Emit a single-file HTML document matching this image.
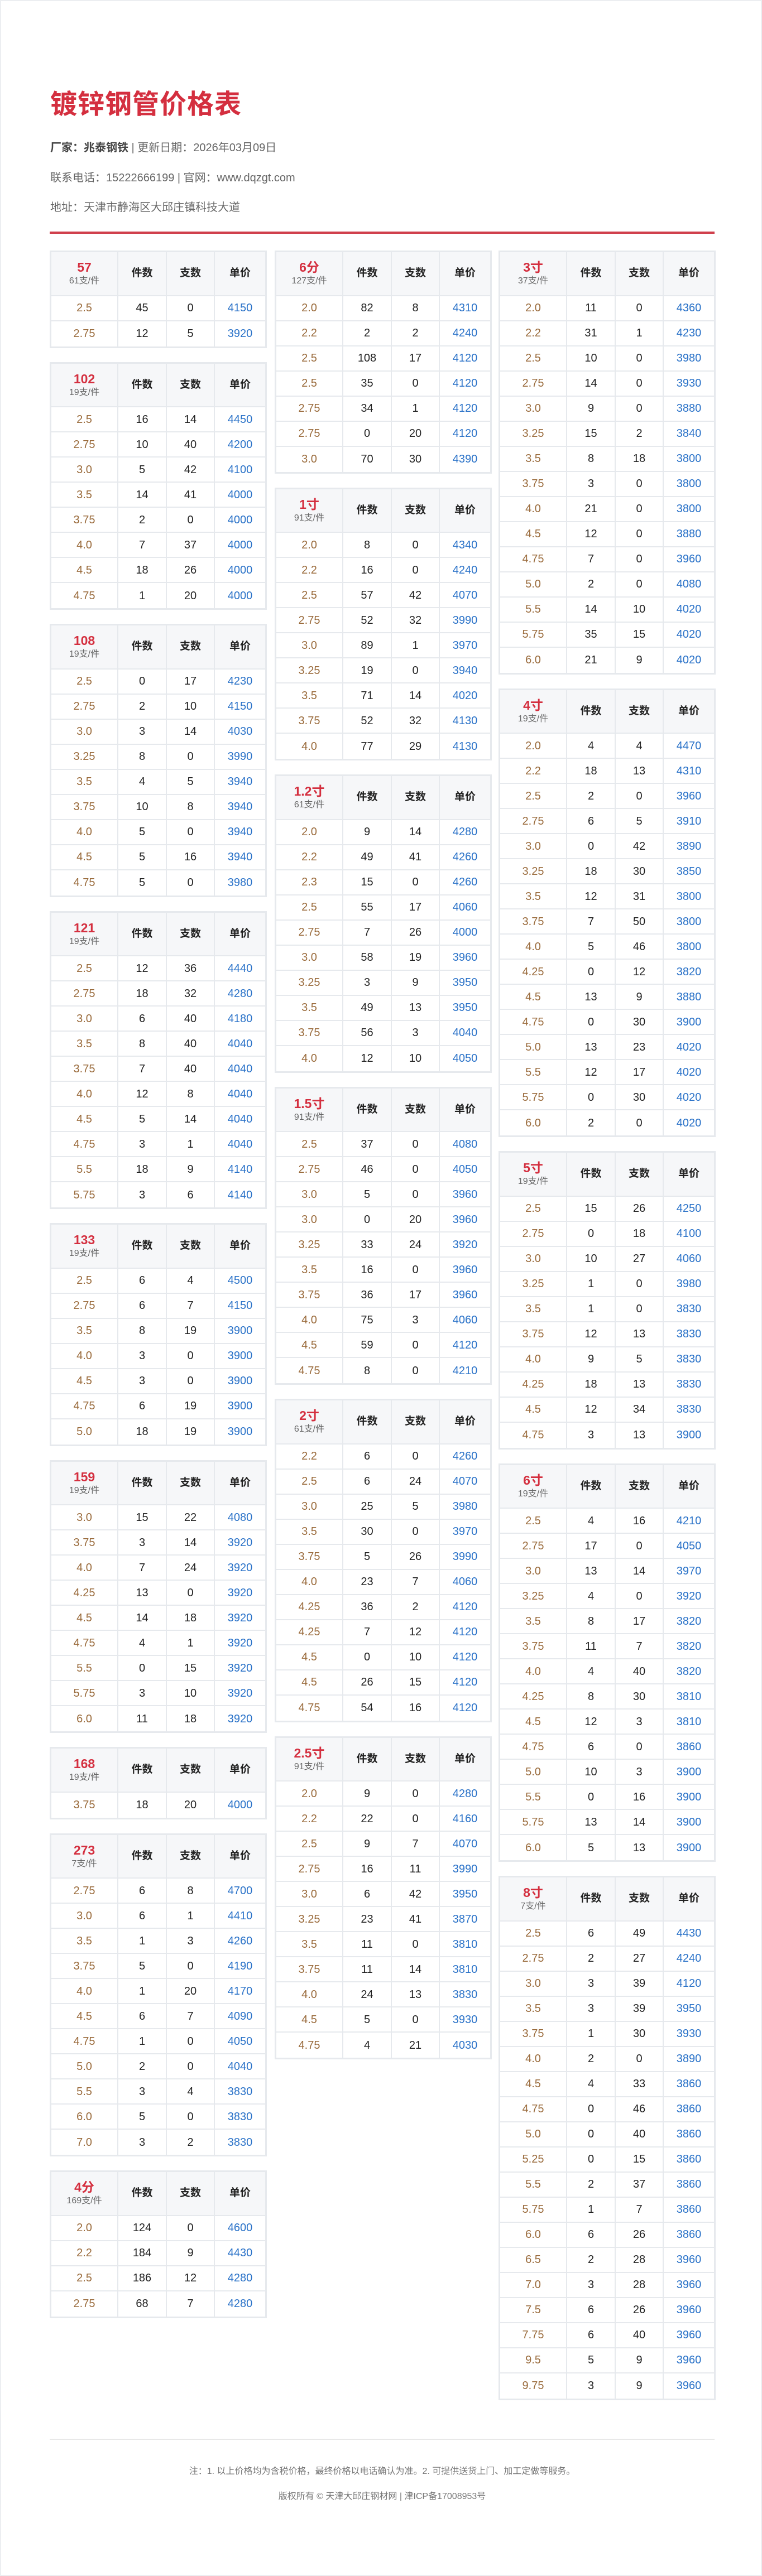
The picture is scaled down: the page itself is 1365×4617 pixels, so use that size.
<!DOCTYPE html>
<html lang="zh">
<head>
<meta charset="utf-8">
<style>
*{box-sizing:border-box;margin:0;padding:0}
html,body{width:1365px;height:4617px;background:#fff}
body{position:relative;font-family:"Liberation Sans","Noto Sans CJK SC",sans-serif;border:2px solid #eceef1;overflow:hidden}
h1{position:absolute;left:88px;top:156px;font-size:48px;font-weight:bold;color:#d42f3f;line-height:60px;letter-spacing:1px}
.info{position:absolute;left:88px;font-size:20px;color:#666;line-height:28px;white-space:nowrap}
.info b{color:#444}
.redline{position:absolute;left:87px;top:413px;width:1191px;height:4px;background:#d0404c}
.col{position:absolute;top:447px;width:389px}
.c1{left:87px}.c2{left:490px}.c3{left:891px}
table{width:389px;border:3px solid #e6e9ed;border-spacing:0;table-layout:fixed;margin-bottom:25px;background:#fff}
td,th{text-align:center;border-right:2px solid #e6e9ed;border-bottom:2px solid #e6e9ed;font-size:20px;line-height:24px;padding:0}
td:last-child,th:last-child{border-right:none}
tr:last-child td{border-bottom:none}
tr{height:45px}
tr.h{height:78.5px}
th{background:#f6f7f9;color:#222;font-weight:bold;font-size:19px}
th .n{display:block;color:#d42f3f;font-size:23px;line-height:28px}
th .s{display:block;color:#666;font-weight:normal;font-size:16px;line-height:22px}
td:nth-child(1){color:#9a6b3c}
td:nth-child(2),td:nth-child(3){color:#222}
td:nth-child(4){color:#2a72c8}
col.a{width:120px}col.b{width:87px}col.c{width:86px}
.fline{position:absolute;left:87px;top:4369px;width:1191px;height:2px;background:#e8e8e8}
.note{position:absolute;left:0;width:1365px;text-align:center;font-size:16px;color:#777;line-height:22px}
</style>
</head>
<body>
<h1>镀锌钢管价格表</h1>
<div class="info" style="top:249px"><b>厂家：兆泰钢铁</b> | 更新日期：2026年03月09日</div>
<div class="info" style="top:303px">联系电话：15222666199 | 官网：www.dqzgt.com</div>
<div class="info" style="top:356px">地址：天津市静海区大邱庄镇科技大道</div>
<div class="redline"></div>

<div class="col c1">
<table><colgroup><col class="a"><col class="b"><col class="c"><col></colgroup>
<tr class="h"><th><span class="n">57</span><span class="s">61支/件</span></th><th>件数</th><th>支数</th><th>单价</th></tr>
<tr><td>2.5</td><td>45</td><td>0</td><td>4150</td></tr>
<tr><td>2.75</td><td>12</td><td>5</td><td>3920</td></tr>
</table>
<table><colgroup><col class="a"><col class="b"><col class="c"><col></colgroup>
<tr class="h"><th><span class="n">102</span><span class="s">19支/件</span></th><th>件数</th><th>支数</th><th>单价</th></tr>
<tr><td>2.5</td><td>16</td><td>14</td><td>4450</td></tr>
<tr><td>2.75</td><td>10</td><td>40</td><td>4200</td></tr>
<tr><td>3.0</td><td>5</td><td>42</td><td>4100</td></tr>
<tr><td>3.5</td><td>14</td><td>41</td><td>4000</td></tr>
<tr><td>3.75</td><td>2</td><td>0</td><td>4000</td></tr>
<tr><td>4.0</td><td>7</td><td>37</td><td>4000</td></tr>
<tr><td>4.5</td><td>18</td><td>26</td><td>4000</td></tr>
<tr><td>4.75</td><td>1</td><td>20</td><td>4000</td></tr>
</table>
<table><colgroup><col class="a"><col class="b"><col class="c"><col></colgroup>
<tr class="h"><th><span class="n">108</span><span class="s">19支/件</span></th><th>件数</th><th>支数</th><th>单价</th></tr>
<tr><td>2.5</td><td>0</td><td>17</td><td>4230</td></tr>
<tr><td>2.75</td><td>2</td><td>10</td><td>4150</td></tr>
<tr><td>3.0</td><td>3</td><td>14</td><td>4030</td></tr>
<tr><td>3.25</td><td>8</td><td>0</td><td>3990</td></tr>
<tr><td>3.5</td><td>4</td><td>5</td><td>3940</td></tr>
<tr><td>3.75</td><td>10</td><td>8</td><td>3940</td></tr>
<tr><td>4.0</td><td>5</td><td>0</td><td>3940</td></tr>
<tr><td>4.5</td><td>5</td><td>16</td><td>3940</td></tr>
<tr><td>4.75</td><td>5</td><td>0</td><td>3980</td></tr>
</table>
<table><colgroup><col class="a"><col class="b"><col class="c"><col></colgroup>
<tr class="h"><th><span class="n">121</span><span class="s">19支/件</span></th><th>件数</th><th>支数</th><th>单价</th></tr>
<tr><td>2.5</td><td>12</td><td>36</td><td>4440</td></tr>
<tr><td>2.75</td><td>18</td><td>32</td><td>4280</td></tr>
<tr><td>3.0</td><td>6</td><td>40</td><td>4180</td></tr>
<tr><td>3.5</td><td>8</td><td>40</td><td>4040</td></tr>
<tr><td>3.75</td><td>7</td><td>40</td><td>4040</td></tr>
<tr><td>4.0</td><td>12</td><td>8</td><td>4040</td></tr>
<tr><td>4.5</td><td>5</td><td>14</td><td>4040</td></tr>
<tr><td>4.75</td><td>3</td><td>1</td><td>4040</td></tr>
<tr><td>5.5</td><td>18</td><td>9</td><td>4140</td></tr>
<tr><td>5.75</td><td>3</td><td>6</td><td>4140</td></tr>
</table>
<table><colgroup><col class="a"><col class="b"><col class="c"><col></colgroup>
<tr class="h"><th><span class="n">133</span><span class="s">19支/件</span></th><th>件数</th><th>支数</th><th>单价</th></tr>
<tr><td>2.5</td><td>6</td><td>4</td><td>4500</td></tr>
<tr><td>2.75</td><td>6</td><td>7</td><td>4150</td></tr>
<tr><td>3.5</td><td>8</td><td>19</td><td>3900</td></tr>
<tr><td>4.0</td><td>3</td><td>0</td><td>3900</td></tr>
<tr><td>4.5</td><td>3</td><td>0</td><td>3900</td></tr>
<tr><td>4.75</td><td>6</td><td>19</td><td>3900</td></tr>
<tr><td>5.0</td><td>18</td><td>19</td><td>3900</td></tr>
</table>
<table><colgroup><col class="a"><col class="b"><col class="c"><col></colgroup>
<tr class="h"><th><span class="n">159</span><span class="s">19支/件</span></th><th>件数</th><th>支数</th><th>单价</th></tr>
<tr><td>3.0</td><td>15</td><td>22</td><td>4080</td></tr>
<tr><td>3.75</td><td>3</td><td>14</td><td>3920</td></tr>
<tr><td>4.0</td><td>7</td><td>24</td><td>3920</td></tr>
<tr><td>4.25</td><td>13</td><td>0</td><td>3920</td></tr>
<tr><td>4.5</td><td>14</td><td>18</td><td>3920</td></tr>
<tr><td>4.75</td><td>4</td><td>1</td><td>3920</td></tr>
<tr><td>5.5</td><td>0</td><td>15</td><td>3920</td></tr>
<tr><td>5.75</td><td>3</td><td>10</td><td>3920</td></tr>
<tr><td>6.0</td><td>11</td><td>18</td><td>3920</td></tr>
</table>
<table><colgroup><col class="a"><col class="b"><col class="c"><col></colgroup>
<tr class="h"><th><span class="n">168</span><span class="s">19支/件</span></th><th>件数</th><th>支数</th><th>单价</th></tr>
<tr><td>3.75</td><td>18</td><td>20</td><td>4000</td></tr>
</table>
<table><colgroup><col class="a"><col class="b"><col class="c"><col></colgroup>
<tr class="h"><th><span class="n">273</span><span class="s">7支/件</span></th><th>件数</th><th>支数</th><th>单价</th></tr>
<tr><td>2.75</td><td>6</td><td>8</td><td>4700</td></tr>
<tr><td>3.0</td><td>6</td><td>1</td><td>4410</td></tr>
<tr><td>3.5</td><td>1</td><td>3</td><td>4260</td></tr>
<tr><td>3.75</td><td>5</td><td>0</td><td>4190</td></tr>
<tr><td>4.0</td><td>1</td><td>20</td><td>4170</td></tr>
<tr><td>4.5</td><td>6</td><td>7</td><td>4090</td></tr>
<tr><td>4.75</td><td>1</td><td>0</td><td>4050</td></tr>
<tr><td>5.0</td><td>2</td><td>0</td><td>4040</td></tr>
<tr><td>5.5</td><td>3</td><td>4</td><td>3830</td></tr>
<tr><td>6.0</td><td>5</td><td>0</td><td>3830</td></tr>
<tr><td>7.0</td><td>3</td><td>2</td><td>3830</td></tr>
</table>
<table><colgroup><col class="a"><col class="b"><col class="c"><col></colgroup>
<tr class="h"><th><span class="n">4分</span><span class="s">169支/件</span></th><th>件数</th><th>支数</th><th>单价</th></tr>
<tr><td>2.0</td><td>124</td><td>0</td><td>4600</td></tr>
<tr><td>2.2</td><td>184</td><td>9</td><td>4430</td></tr>
<tr><td>2.5</td><td>186</td><td>12</td><td>4280</td></tr>
<tr><td>2.75</td><td>68</td><td>7</td><td>4280</td></tr>
</table>
</div>

<div class="col c2">
<table><colgroup><col class="a"><col class="b"><col class="c"><col></colgroup>
<tr class="h"><th><span class="n">6分</span><span class="s">127支/件</span></th><th>件数</th><th>支数</th><th>单价</th></tr>
<tr><td>2.0</td><td>82</td><td>8</td><td>4310</td></tr>
<tr><td>2.2</td><td>2</td><td>2</td><td>4240</td></tr>
<tr><td>2.5</td><td>108</td><td>17</td><td>4120</td></tr>
<tr><td>2.5</td><td>35</td><td>0</td><td>4120</td></tr>
<tr><td>2.75</td><td>34</td><td>1</td><td>4120</td></tr>
<tr><td>2.75</td><td>0</td><td>20</td><td>4120</td></tr>
<tr><td>3.0</td><td>70</td><td>30</td><td>4390</td></tr>
</table>
<table><colgroup><col class="a"><col class="b"><col class="c"><col></colgroup>
<tr class="h"><th><span class="n">1寸</span><span class="s">91支/件</span></th><th>件数</th><th>支数</th><th>单价</th></tr>
<tr><td>2.0</td><td>8</td><td>0</td><td>4340</td></tr>
<tr><td>2.2</td><td>16</td><td>0</td><td>4240</td></tr>
<tr><td>2.5</td><td>57</td><td>42</td><td>4070</td></tr>
<tr><td>2.75</td><td>52</td><td>32</td><td>3990</td></tr>
<tr><td>3.0</td><td>89</td><td>1</td><td>3970</td></tr>
<tr><td>3.25</td><td>19</td><td>0</td><td>3940</td></tr>
<tr><td>3.5</td><td>71</td><td>14</td><td>4020</td></tr>
<tr><td>3.75</td><td>52</td><td>32</td><td>4130</td></tr>
<tr><td>4.0</td><td>77</td><td>29</td><td>4130</td></tr>
</table>
<table><colgroup><col class="a"><col class="b"><col class="c"><col></colgroup>
<tr class="h"><th><span class="n">1.2寸</span><span class="s">61支/件</span></th><th>件数</th><th>支数</th><th>单价</th></tr>
<tr><td>2.0</td><td>9</td><td>14</td><td>4280</td></tr>
<tr><td>2.2</td><td>49</td><td>41</td><td>4260</td></tr>
<tr><td>2.3</td><td>15</td><td>0</td><td>4260</td></tr>
<tr><td>2.5</td><td>55</td><td>17</td><td>4060</td></tr>
<tr><td>2.75</td><td>7</td><td>26</td><td>4000</td></tr>
<tr><td>3.0</td><td>58</td><td>19</td><td>3960</td></tr>
<tr><td>3.25</td><td>3</td><td>9</td><td>3950</td></tr>
<tr><td>3.5</td><td>49</td><td>13</td><td>3950</td></tr>
<tr><td>3.75</td><td>56</td><td>3</td><td>4040</td></tr>
<tr><td>4.0</td><td>12</td><td>10</td><td>4050</td></tr>
</table>
<table><colgroup><col class="a"><col class="b"><col class="c"><col></colgroup>
<tr class="h"><th><span class="n">1.5寸</span><span class="s">91支/件</span></th><th>件数</th><th>支数</th><th>单价</th></tr>
<tr><td>2.5</td><td>37</td><td>0</td><td>4080</td></tr>
<tr><td>2.75</td><td>46</td><td>0</td><td>4050</td></tr>
<tr><td>3.0</td><td>5</td><td>0</td><td>3960</td></tr>
<tr><td>3.0</td><td>0</td><td>20</td><td>3960</td></tr>
<tr><td>3.25</td><td>33</td><td>24</td><td>3920</td></tr>
<tr><td>3.5</td><td>16</td><td>0</td><td>3960</td></tr>
<tr><td>3.75</td><td>36</td><td>17</td><td>3960</td></tr>
<tr><td>4.0</td><td>75</td><td>3</td><td>4060</td></tr>
<tr><td>4.5</td><td>59</td><td>0</td><td>4120</td></tr>
<tr><td>4.75</td><td>8</td><td>0</td><td>4210</td></tr>
</table>
<table><colgroup><col class="a"><col class="b"><col class="c"><col></colgroup>
<tr class="h"><th><span class="n">2寸</span><span class="s">61支/件</span></th><th>件数</th><th>支数</th><th>单价</th></tr>
<tr><td>2.2</td><td>6</td><td>0</td><td>4260</td></tr>
<tr><td>2.5</td><td>6</td><td>24</td><td>4070</td></tr>
<tr><td>3.0</td><td>25</td><td>5</td><td>3980</td></tr>
<tr><td>3.5</td><td>30</td><td>0</td><td>3970</td></tr>
<tr><td>3.75</td><td>5</td><td>26</td><td>3990</td></tr>
<tr><td>4.0</td><td>23</td><td>7</td><td>4060</td></tr>
<tr><td>4.25</td><td>36</td><td>2</td><td>4120</td></tr>
<tr><td>4.25</td><td>7</td><td>12</td><td>4120</td></tr>
<tr><td>4.5</td><td>0</td><td>10</td><td>4120</td></tr>
<tr><td>4.5</td><td>26</td><td>15</td><td>4120</td></tr>
<tr><td>4.75</td><td>54</td><td>16</td><td>4120</td></tr>
</table>
<table><colgroup><col class="a"><col class="b"><col class="c"><col></colgroup>
<tr class="h"><th><span class="n">2.5寸</span><span class="s">91支/件</span></th><th>件数</th><th>支数</th><th>单价</th></tr>
<tr><td>2.0</td><td>9</td><td>0</td><td>4280</td></tr>
<tr><td>2.2</td><td>22</td><td>0</td><td>4160</td></tr>
<tr><td>2.5</td><td>9</td><td>7</td><td>4070</td></tr>
<tr><td>2.75</td><td>16</td><td>11</td><td>3990</td></tr>
<tr><td>3.0</td><td>6</td><td>42</td><td>3950</td></tr>
<tr><td>3.25</td><td>23</td><td>41</td><td>3870</td></tr>
<tr><td>3.5</td><td>11</td><td>0</td><td>3810</td></tr>
<tr><td>3.75</td><td>11</td><td>14</td><td>3810</td></tr>
<tr><td>4.0</td><td>24</td><td>13</td><td>3830</td></tr>
<tr><td>4.5</td><td>5</td><td>0</td><td>3930</td></tr>
<tr><td>4.75</td><td>4</td><td>21</td><td>4030</td></tr>
</table>
</div>

<div class="col c3">
<table><colgroup><col class="a"><col class="b"><col class="c"><col></colgroup>
<tr class="h"><th><span class="n">3寸</span><span class="s">37支/件</span></th><th>件数</th><th>支数</th><th>单价</th></tr>
<tr><td>2.0</td><td>11</td><td>0</td><td>4360</td></tr>
<tr><td>2.2</td><td>31</td><td>1</td><td>4230</td></tr>
<tr><td>2.5</td><td>10</td><td>0</td><td>3980</td></tr>
<tr><td>2.75</td><td>14</td><td>0</td><td>3930</td></tr>
<tr><td>3.0</td><td>9</td><td>0</td><td>3880</td></tr>
<tr><td>3.25</td><td>15</td><td>2</td><td>3840</td></tr>
<tr><td>3.5</td><td>8</td><td>18</td><td>3800</td></tr>
<tr><td>3.75</td><td>3</td><td>0</td><td>3800</td></tr>
<tr><td>4.0</td><td>21</td><td>0</td><td>3800</td></tr>
<tr><td>4.5</td><td>12</td><td>0</td><td>3880</td></tr>
<tr><td>4.75</td><td>7</td><td>0</td><td>3960</td></tr>
<tr><td>5.0</td><td>2</td><td>0</td><td>4080</td></tr>
<tr><td>5.5</td><td>14</td><td>10</td><td>4020</td></tr>
<tr><td>5.75</td><td>35</td><td>15</td><td>4020</td></tr>
<tr><td>6.0</td><td>21</td><td>9</td><td>4020</td></tr>
</table>
<table><colgroup><col class="a"><col class="b"><col class="c"><col></colgroup>
<tr class="h"><th><span class="n">4寸</span><span class="s">19支/件</span></th><th>件数</th><th>支数</th><th>单价</th></tr>
<tr><td>2.0</td><td>4</td><td>4</td><td>4470</td></tr>
<tr><td>2.2</td><td>18</td><td>13</td><td>4310</td></tr>
<tr><td>2.5</td><td>2</td><td>0</td><td>3960</td></tr>
<tr><td>2.75</td><td>6</td><td>5</td><td>3910</td></tr>
<tr><td>3.0</td><td>0</td><td>42</td><td>3890</td></tr>
<tr><td>3.25</td><td>18</td><td>30</td><td>3850</td></tr>
<tr><td>3.5</td><td>12</td><td>31</td><td>3800</td></tr>
<tr><td>3.75</td><td>7</td><td>50</td><td>3800</td></tr>
<tr><td>4.0</td><td>5</td><td>46</td><td>3800</td></tr>
<tr><td>4.25</td><td>0</td><td>12</td><td>3820</td></tr>
<tr><td>4.5</td><td>13</td><td>9</td><td>3880</td></tr>
<tr><td>4.75</td><td>0</td><td>30</td><td>3900</td></tr>
<tr><td>5.0</td><td>13</td><td>23</td><td>4020</td></tr>
<tr><td>5.5</td><td>12</td><td>17</td><td>4020</td></tr>
<tr><td>5.75</td><td>0</td><td>30</td><td>4020</td></tr>
<tr><td>6.0</td><td>2</td><td>0</td><td>4020</td></tr>
</table>
<table><colgroup><col class="a"><col class="b"><col class="c"><col></colgroup>
<tr class="h"><th><span class="n">5寸</span><span class="s">19支/件</span></th><th>件数</th><th>支数</th><th>单价</th></tr>
<tr><td>2.5</td><td>15</td><td>26</td><td>4250</td></tr>
<tr><td>2.75</td><td>0</td><td>18</td><td>4100</td></tr>
<tr><td>3.0</td><td>10</td><td>27</td><td>4060</td></tr>
<tr><td>3.25</td><td>1</td><td>0</td><td>3980</td></tr>
<tr><td>3.5</td><td>1</td><td>0</td><td>3830</td></tr>
<tr><td>3.75</td><td>12</td><td>13</td><td>3830</td></tr>
<tr><td>4.0</td><td>9</td><td>5</td><td>3830</td></tr>
<tr><td>4.25</td><td>18</td><td>13</td><td>3830</td></tr>
<tr><td>4.5</td><td>12</td><td>34</td><td>3830</td></tr>
<tr><td>4.75</td><td>3</td><td>13</td><td>3900</td></tr>
</table>
<table><colgroup><col class="a"><col class="b"><col class="c"><col></colgroup>
<tr class="h"><th><span class="n">6寸</span><span class="s">19支/件</span></th><th>件数</th><th>支数</th><th>单价</th></tr>
<tr><td>2.5</td><td>4</td><td>16</td><td>4210</td></tr>
<tr><td>2.75</td><td>17</td><td>0</td><td>4050</td></tr>
<tr><td>3.0</td><td>13</td><td>14</td><td>3970</td></tr>
<tr><td>3.25</td><td>4</td><td>0</td><td>3920</td></tr>
<tr><td>3.5</td><td>8</td><td>17</td><td>3820</td></tr>
<tr><td>3.75</td><td>11</td><td>7</td><td>3820</td></tr>
<tr><td>4.0</td><td>4</td><td>40</td><td>3820</td></tr>
<tr><td>4.25</td><td>8</td><td>30</td><td>3810</td></tr>
<tr><td>4.5</td><td>12</td><td>3</td><td>3810</td></tr>
<tr><td>4.75</td><td>6</td><td>0</td><td>3860</td></tr>
<tr><td>5.0</td><td>10</td><td>3</td><td>3900</td></tr>
<tr><td>5.5</td><td>0</td><td>16</td><td>3900</td></tr>
<tr><td>5.75</td><td>13</td><td>14</td><td>3900</td></tr>
<tr><td>6.0</td><td>5</td><td>13</td><td>3900</td></tr>
</table>
<table><colgroup><col class="a"><col class="b"><col class="c"><col></colgroup>
<tr class="h"><th><span class="n">8寸</span><span class="s">7支/件</span></th><th>件数</th><th>支数</th><th>单价</th></tr>
<tr><td>2.5</td><td>6</td><td>49</td><td>4430</td></tr>
<tr><td>2.75</td><td>2</td><td>27</td><td>4240</td></tr>
<tr><td>3.0</td><td>3</td><td>39</td><td>4120</td></tr>
<tr><td>3.5</td><td>3</td><td>39</td><td>3950</td></tr>
<tr><td>3.75</td><td>1</td><td>30</td><td>3930</td></tr>
<tr><td>4.0</td><td>2</td><td>0</td><td>3890</td></tr>
<tr><td>4.5</td><td>4</td><td>33</td><td>3860</td></tr>
<tr><td>4.75</td><td>0</td><td>46</td><td>3860</td></tr>
<tr><td>5.0</td><td>0</td><td>40</td><td>3860</td></tr>
<tr><td>5.25</td><td>0</td><td>15</td><td>3860</td></tr>
<tr><td>5.5</td><td>2</td><td>37</td><td>3860</td></tr>
<tr><td>5.75</td><td>1</td><td>7</td><td>3860</td></tr>
<tr><td>6.0</td><td>6</td><td>26</td><td>3860</td></tr>
<tr><td>6.5</td><td>2</td><td>28</td><td>3960</td></tr>
<tr><td>7.0</td><td>3</td><td>28</td><td>3960</td></tr>
<tr><td>7.5</td><td>6</td><td>26</td><td>3960</td></tr>
<tr><td>7.75</td><td>6</td><td>40</td><td>3960</td></tr>
<tr><td>9.5</td><td>5</td><td>9</td><td>3960</td></tr>
<tr><td>9.75</td><td>3</td><td>9</td><td>3960</td></tr>
</table>
</div>

<div class="fline"></div>
<div class="note" style="top:4417px">注：1. 以上价格均为含税价格，最终价格以电话确认为准。2. 可提供送货上门、加工定做等服务。</div>
<div class="note" style="top:4462px">版权所有 © 天津大邱庄钢材网 | 津ICP备17008953号</div>
</body>
</html>
